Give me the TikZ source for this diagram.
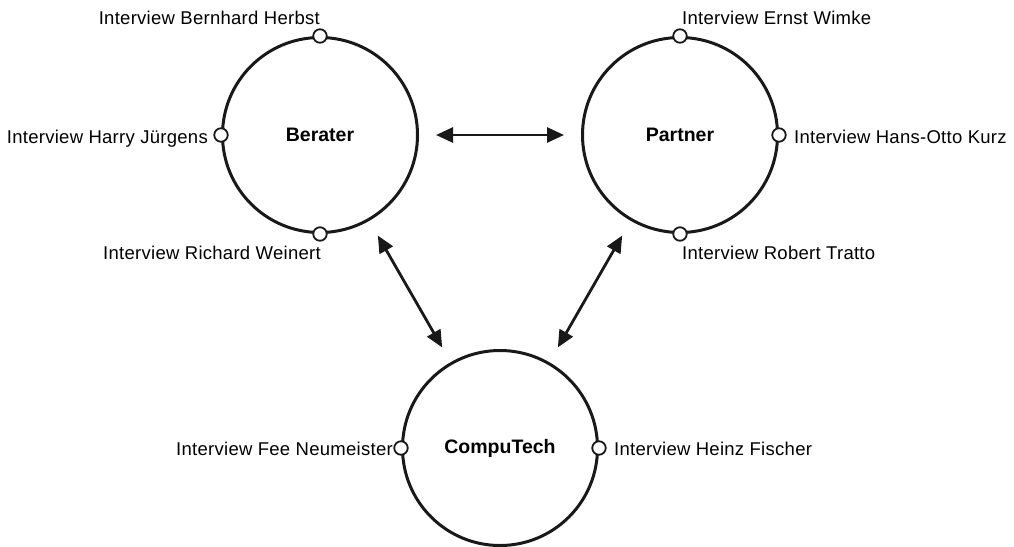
\documentclass[tikz,border=0pt]{standalone}
\usepackage{fontspec}
\setmainfont{Liberation Sans}
\usetikzlibrary{arrows.meta}
\begin{document}
\begin{tikzpicture}[x=1pt,y=-1pt,
  group/.style={circle,draw=black!90,line width=3pt,minimum size=195pt,inner sep=0pt,
    font=\fontsize{19.5}{22}\selectfont\bfseries},
  port/.style={circle,draw=black!90,fill=white,line width=1.8pt,minimum size=13.5pt,inner sep=0pt},
  lbl/.style={inner sep=0pt,font=\fontsize{18.5}{21}\selectfont\addfontfeature{LetterSpace=1.5}},
  link/.style={line width=2.8pt,draw=black!90,{Triangle[length=17pt,width=15pt]}-{Triangle[length=17pt,width=15pt]},
    shorten <=17pt,shorten >=17pt}]
\useasboundingbox (0,0) rectangle (1014,546);

% the three groups
\node[group] (berater) at (320,135) {Berater};
\node[group] (partner) at (680,135) {Partner};
\node[group] (compu) at (500,448) {CompuTech};

% relations between the groups
\draw[link] (berater) -- (partner);
\draw[link] (berater) -- (compu);
\draw[link] (partner) -- (compu);

% interview points on the circles
\node[port] (bn) at (berater.north) {};
\node[port] (bw) at (berater.west) {};
\node[port] (bs) at (berater.south) {};
\node[port] (pn) at (partner.north) {};
\node[port] (pe) at (partner.east) {};
\node[port] (ps) at (partner.south) {};
\node[port] (cw) at (compu.west) {};
\node[port] (ce) at (compu.east) {};

% interview labels
\node[lbl,anchor=base east] (lbn) at (320,24) {Interview Bernhard Herbst};
\node[lbl,anchor=base east] (lbw) at (208,143.5) {Interview Harry Jürgens};
\node[lbl,anchor=base east] (lbs) at (321,259.5) {Interview Richard Weinert};
\node[lbl,anchor=base west] (lpn) at (682,24) {Interview Ernst Wimke};
\node[lbl,anchor=base west] (lpe) at (794,143.5) {Interview Hans-Otto Kurz};
\node[lbl,anchor=base west] (lps) at (682,259.5) {Interview Robert Tratto};
\node[lbl,anchor=base east] (lcw) at (393,455) {Interview Fee Neumeister};
\node[lbl,anchor=base west] (lce) at (614,455) {Interview Heinz Fischer};
\end{tikzpicture}
\end{document}
